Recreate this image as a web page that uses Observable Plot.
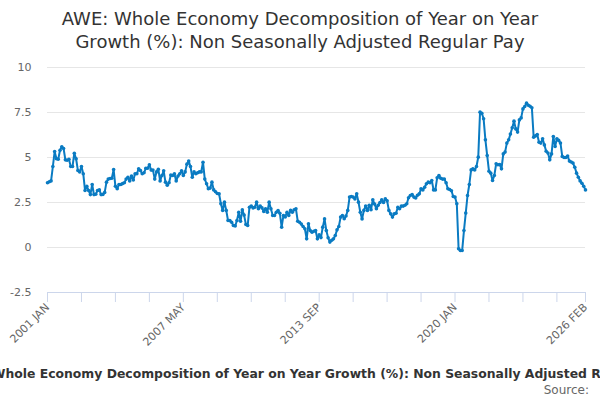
<!DOCTYPE html>
<html>
<head>
<meta charset="utf-8">
<script src="https://cdn.jsdelivr.net/npm/d3@7"></script>
<script src="https://cdn.jsdelivr.net/npm/@observablehq/plot@0.6"></script>
<style>
  html, body { margin: 0; padding: 0; background: #fff; }
  #wrap { position: relative; width: 600px; height: 400px; overflow: hidden; font-family: "DejaVu Sans", sans-serif; }
  #title { position: absolute; left: 0; top: 8px; width: 600px; text-align: center; font-size: 18px; line-height: 22.5px; color: #333; }
  #chart { position: absolute; left: 0; top: 60px; }
  #caption { position: absolute; left: 313px; top: 365.5px; transform: translateX(-50%); white-space: nowrap; font-size: 12.4px; line-height: 15px; font-weight: bold; color: #333; }
  #source { position: absolute; right: 11px; top: 383px; font-size: 12px; line-height: 14px; color: #666; }
</style>
</head>
<body>
<div id="wrap">
  <div id="title">AWE: Whole Economy Decomposition of Year on Year<br>Growth (%): Non Seasonally Adjusted Regular Pay</div>
  <div id="chart"></div>
  <div id="caption">AWE: Whole Economy Decomposition of Year on Year Growth (%): Non Seasonally Adjusted Regular Pay</div>
  <div id="source">Source:</div>
</div>
<script>
// Monthly year-on-year growth (%), 2001 JAN .. 2026 FEB
const values = [
  3.6, 3.65, 3.7, 4.5, 5.33, 4.93, 4.9, 5.4, 5.6, 5.5, 4.87, 4.85,
  4.9, 4.5, 4.5, 5.24, 4.93, 4.28, 4.2, 4.5, 4.1, 3.17, 3.4, 3.17,
  2.94, 3.5, 2.94, 2.96, 3.17, 3.2, 2.94, 2.95, 3.06, 3.63, 3.8, 3.83,
  3.85, 4.33, 3.4, 3.27, 3.5, 3.5, 3.55, 3.6, 3.8, 3.9, 3.7, 3.97,
  3.75, 4.1, 4.1, 4.37, 4.28, 4.1, 4.15, 4.4, 4.4, 4.6, 4.3, 4.3,
  3.8, 4.2, 4.35, 3.7, 4.0, 4.26, 3.63, 3.46, 3.6, 4.03, 4.0, 4.1,
  3.7, 3.97, 4.1, 4.26, 4.0, 4.2, 4.63, 4.8, 4.5, 3.9, 4.2, 4.1,
  4.15, 4.2, 4.2, 4.74, 3.8, 3.54, 3.26, 3.3, 3.63, 3.2, 3.1, 3.0,
  2.98, 2.43, 2.06, 2.52, 2.06, 1.5, 1.5, 1.4, 1.22, 1.2, 1.5, 1.96,
  1.46, 2.09, 1.8, 1.28, 1.22, 2.24, 2.3, 2.2, 2.24, 2.52, 2.15, 2.3,
  2.2, 2.0, 2.15, 1.96, 2.52, 2.15, 1.78, 1.78, 1.96, 2.05, 1.9, 1.13,
  1.78, 1.7, 1.96, 1.78, 2.06, 1.96, 2.1, 2.15, 1.46, 1.4, 1.3, 1.17,
  1.04, 0.48, 1.32, 0.94, 0.85, 0.9, 0.94, 0.48, 0.7, 0.55, 1.13, 1.59,
  0.94, 0.54, 0.3, 0.4, 0.48, 0.67, 0.98, 1.17, 1.69, 1.78, 1.6, 1.75,
  2.06, 2.8, 2.83, 2.8, 2.7, 2.98, 2.52, 1.96, 1.59, 2.06, 2.3, 2.06,
  2.35, 2.1, 2.65, 2.41, 2.15, 2.35, 2.5, 2.65, 2.5, 2.7, 2.6, 2.06,
  1.87, 1.69, 1.87, 1.9, 2.24, 2.15, 2.3, 2.3, 2.35, 2.43, 2.76, 2.89,
  2.94, 2.8, 2.75, 2.9, 2.98, 3.26, 3.2, 3.35, 3.54, 3.63, 3.6, 3.72,
  3.2, 3.2, 3.87, 4.0, 3.85, 3.8, 3.8, 3.6, 3.26, 3.22, 3.15, 2.83,
  2.8, 2.43, -0.07, -0.17, -0.17, 0.94, 1.91, 2.89, 3.5, 4.31, 4.37, 4.31,
  4.5, 5.02, 7.52, 7.46, 7.15, 5.98, 5.11, 4.24, 4.13, 3.72, 4.0, 4.65,
  4.6, 4.61, 4.37, 5.2, 5.3, 5.8, 5.98, 6.3, 6.65, 7.02, 6.59, 6.41,
  7.09, 7.2, 7.7, 7.83, 8.02, 7.9, 7.85, 7.76, 6.13, 6.2, 6.28, 5.85,
  5.8, 6.04, 5.7, 5.35, 5.25, 4.87, 5.2, 6.17, 5.61, 6.04, 5.95, 5.8,
  5.06, 5.0, 5.0, 5.08, 4.8, 4.75, 4.69, 4.46, 4.13, 3.9, 3.7, 3.57,
  3.4, 3.2
];
const monthNames = ["JAN","FEB","MAR","APR","MAY","JUN","JUL","AUG","SEP","OCT","NOV","DEC"];
const startYear = 2001;
const months = values.map((_, i) => `${startYear + Math.floor(i / 12)} ${monthNames[i % 12]}`);
const tickLabels = ["2001 JAN", "2007 MAY", "2013 SEP", "2020 JAN", "2026 FEB"];
const yTicks = [-2.5, 0, 2.5, 5, 7.5, 10];
const tickStep = 19;

const data = months.map((m, i) => ({month: m, value: values[i]}));
const xTicks = months.filter((_, i) => i % tickStep === 0 || i === months.length - 1);
const labelSet = new Set(tickLabels);
const color = "#0a7bc2";

const chart = Plot.plot({
  width: 600,
  height: 310,
  marginLeft: 47,
  marginRight: 15,
  marginTop: 7,
  marginBottom: 78,
  style: {fontFamily: "DejaVu Sans, sans-serif", fontSize: "11px", overflow: "visible", background: "#fff"},
  x: {type: "point", domain: months, padding: 0},
  y: {domain: [-2.5, 10]},
  marks: [
    Plot.gridY(yTicks.filter(d => d > -2.5), {stroke: "#e6e6e6", strokeOpacity: 1}),
    Plot.ruleY([-2.5], {stroke: "#ccd6eb"}),
    Plot.axisY({ticks: yTicks, tickSize: 0, tickPadding: 16, fill: "#666", tickFormat: d => String(d), label: null}),
    Plot.axisX({ticks: xTicks, tickSize: 10, tickPadding: 3, stroke: "#ccd6eb", strokeOpacity: 1, fill: "#666",
      tickRotate: -45, textAnchor: "end", tickFormat: d => labelSet.has(d) ? d : "", label: null}),
    Plot.line(data, {x: "month", y: "value", stroke: color, strokeWidth: 2}),
    Plot.dot(data, {x: "month", y: "value", r: 1.8, fill: color})
  ]
});
document.getElementById("chart").appendChild(chart);
</script>
</body>
</html>
